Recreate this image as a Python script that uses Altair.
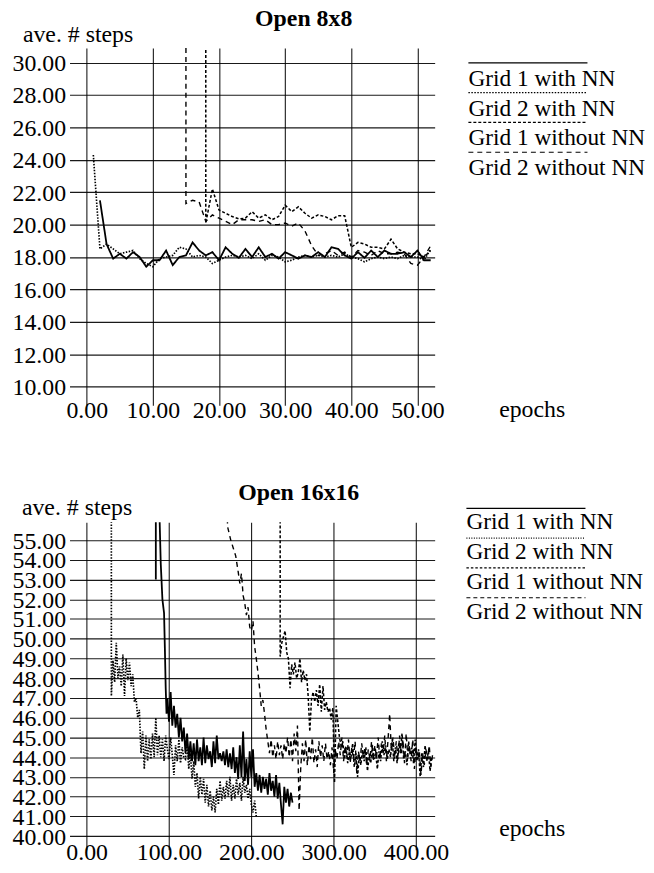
import altair as alt
import pandas as pd

FONT = "Liberation Serif"
SERIES = ["Grid 1 with NN", "Grid 2 with NN", "Grid 1 without NN", "Grid 2 without NN"]

# ---------------- Open 8x8 ----------------
o8_x_ticks = [0, 10, 20, 30, 40, 50]
o8_y_ticks = [10, 12, 14, 16, 18, 20, 22, 24, 26, 28, 30]

o8_g1nn_x = list(range(2, 53))
o8_g1nn_y = [21.5, 18.8, 17.9, 18.2, 17.9, 18.3, 18.0, 17.4, 17.8, 17.8,
             18.4, 17.5, 18.0, 18.1, 18.9, 18.4, 18.1, 18.3, 17.8, 18.6,
             18.2, 17.95, 18.5, 18.0, 18.6, 18.0, 18.2, 17.9, 18.3, 18.1,
             17.9, 18.1, 18.0, 18.3, 18.0, 18.6, 18.5, 18.1, 17.9, 18.3,
             17.95, 18.4, 18.0, 18.4, 18.2, 18.2, 18.3, 18.0, 18.4, 17.8, 17.8]

o8_g2nn_x = list(range(1, 53))
o8_g2nn_y = [24.3, 18.5, 18.8, 18.5, 18.2, 18.3, 18.4, 17.9, 17.6, 17.4,
             17.9, 18.0, 18.1, 18.6, 18.5, 18.0, 18.1, 18.0, 17.6, 17.8,
             18.0, 18.1, 18.0, 18.1, 17.9, 18.2, 17.8, 18.1, 18.0, 17.7,
             17.8, 18.0, 18.1, 18.0, 18.1, 18.0, 18.1, 18.0, 18.2, 18.0,
             17.9, 17.7, 17.9, 18.0, 17.9, 18.0, 17.9, 18.1, 18.0, 18.0, 17.8, 18.5]

o8_g1wo_x = [18] + list(range(18, 53))
o8_g1wo_y = [32, 20.1,
             22.2, 20.9, 20.7, 20.5, 20.35, 20.4, 20.8, 20.4, 20.6, 20.3,
             20.5, 21.2, 20.8, 21.1, 20.7, 20.4, 20.6, 20.5, 20.3, 20.55,
             20.55, 18.6, 18.9, 18.8, 18.6, 18.6, 18.5, 19.1, 18.5, 18.3,
             18.2, 18.2, 18.0, 18.4]

o8_g2wo_x = [15] + list(range(15, 53))
o8_g2wo_y = [32, 21.3,
             21.5, 21.4, 20.2, 20.6, 20.4, 20.2, 20.0, 20.3, 20.3, 20.3,
             20.2, 20.3, 20.0, 20.0, 20.1, 19.9, 20.1, 19.6, 18.7, 18.1,
             18.2, 18.4, 18.1, 18.3, 18.0, 18.4, 18.3, 18.1, 18.4, 18.2,
             18.2, 18.3, 18.2, 17.6, 17.5, 18.0, 18.7]

# ---------------- Open 16x16 ----------------
o16_x_ticks = [0, 100, 200, 300, 400]
o16_y_ticks = list(range(40, 56))

o16_g1nn_x = [84, 84, 88, 90, 92, 94, 95, 96, 97] + list(range(98, 251, 2))
o16_g1nn_y = [53.0, 57, 57, 53.8, 52.0, 51.3, 49.5, 47.5, 46.2,
              47.0, 45.8, 47.3, 45.6, 46.6, 45.5, 46.2, 45.0, 46.0, 44.8,
              45.5, 44.2, 45.2, 43.9, 44.8, 43.8, 44.7, 43.6, 44.9, 43.8,
              44.5, 43.6, 45.0, 43.7, 44.6, 43.9, 44.3, 43.5, 44.8, 43.7,
              45.1, 43.9, 44.2, 43.8, 44.3, 43.6, 44.4, 43.5, 44.2, 43.4,
              44.5, 43.2, 44.0, 42.9, 44.6, 43.0, 45.3, 42.8, 43.9, 42.6,
              44.3, 43.0, 44.4, 42.5, 43.2, 42.3, 43.1, 42.2, 43.0, 42.4,
              42.9, 42.1, 43.2, 42.3, 42.8, 42.0, 43.1, 41.9, 42.7, 41.6,
              40.6, 42.5, 41.7, 42.4, 41.5, 42.2, 41.7]

o16_g2nn_x = [30, 30] + list(range(32, 207, 2))
o16_g2nn_y = [57, 47.1,
              48.9, 47.8, 49.8, 48.0, 48.6, 47.6, 49.2, 47.1, 49.0, 47.9,
              48.8, 47.6, 48.2, 46.8, 47.0, 46.0, 46.4, 44.2, 45.3, 43.4,
              45.1, 43.8, 44.9, 43.9, 45.2, 44.0, 46.0, 44.1, 45.1, 44.0,
              44.9, 43.8, 45.1, 44.4, 43.9, 45.0, 44.1, 43.1, 44.6, 43.8,
              44.9, 43.7, 44.5, 44.0, 43.9, 44.8, 43.4, 44.2, 42.9, 43.8,
              42.5, 43.2, 41.9, 43.0, 42.1, 42.9, 41.7, 42.6, 41.5, 42.3,
              41.3, 42.0, 41.2, 42.4, 41.6, 42.8, 41.8, 42.5, 41.9, 42.8,
              42.0, 43.0, 41.8, 42.6, 41.9, 42.9, 42.1, 42.7, 41.8, 43.0,
              42.2, 42.6, 41.9, 42.4, 41.6, 41.2, 41.8, 41.0]

o16_g1wo_x = [235, 235] + list(range(237, 420, 2))
o16_g1wo_y = [57, 49.1,
              49.8, 50.1, 50.4, 49.3, 49.0, 47.5, 48.7, 48.2, 48.8, 48.0,
              48.3, 49.0, 47.8, 48.4, 47.9, 48.2, 47.1, 45.3, 46.9, 47.3,
              46.8, 47.4, 46.6, 47.7, 46.3, 47.6, 46.4, 46.8, 46.3, 46.5,
              45.9, 46.5, 42.7, 46.6, 45.8, 45.0, 44.6, 44.8,
              43.9, 44.5, 43.7, 44.3, 44.0, 44.7, 43.5, 44.2, 43.0, 44.1,
              43.6, 44.4, 43.8, 44.5, 43.3, 44.0, 43.7, 44.6, 43.9, 44.2,
              43.4, 44.3, 43.8, 44.8, 44.1, 44.6, 43.9, 44.4, 44.0, 44.9,
              43.8, 44.5, 43.7, 44.7, 44.2, 45.2, 43.9, 44.3, 43.6, 44.8,
              44.1, 44.5, 43.7, 44.9, 43.8, 44.4, 43.0, 44.2, 43.5, 44.6,
              43.8, 44.3, 43.3, 44.0]

o16_g2wo_x = [171, 171, 175, 178, 181, 184, 186, 188, 190, 192, 194, 196, 198] + list(range(200, 421, 2))
o16_g2wo_y = [57, 55.7, 55.0, 54.6, 54.2, 53.4, 52.8, 53.3, 52.2, 51.8, 51.2, 51.6, 50.6,
              50.4, 50.9, 49.6, 49.0, 48.3, 47.5, 46.6, 46.9, 46.2, 45.4, 44.8,
              44.2, 44.9, 44.0, 44.6, 43.9, 44.8, 44.1, 44.6, 43.9, 44.7,
              44.2, 45.0, 44.0, 44.9, 43.8, 45.2, 44.3, 45.6, 41.3, 43.5,
              44.7, 43.8, 44.9, 43.6, 44.6, 43.9, 45.0, 43.7, 44.4, 43.5,
              44.8, 44.0, 44.6, 43.8, 44.7, 43.9, 44.3, 43.6, 44.5, 43.2,
              44.4, 43.9, 44.8, 44.1, 45.0, 43.8, 44.6, 44.0, 44.9, 43.7,
              44.5, 43.9, 44.8, 43.2, 44.3, 43.8, 44.7, 44.0, 44.5, 43.6,
              44.4, 43.9, 44.8, 43.8, 44.6, 44.0, 45.0, 43.9, 44.7, 44.2,
              45.1, 43.8, 44.9, 46.2, 44.3, 45.0, 44.0, 44.8, 43.9, 45.1,
              44.2, 44.9, 43.7, 45.2, 44.0, 44.6, 43.8, 44.9, 43.4, 44.5,
              43.9, 44.3, 43.1, 44.2, 43.6, 44.4, 43.9, 44.6, 43.5, 44.1]


def series_df(xs, ys, name):
    assert len(xs) == len(ys), (name, len(xs), len(ys))
    return pd.DataFrame({"epoch": xs, "steps": ys, "series": name,
                         "order": list(range(len(xs)))})


def panel(df, title, xdom, xticks, ydom, yticks, dashes, widths,
          w, h, title_x, title_y, ylab_x, ylab_y, ylab_pad, xlab_pad,
          ep_x, ep_y, leg_x1, leg_x2, leg_y0, txt_y0):
    dash_scale = alt.Scale(domain=SERIES, range=dashes)
    width_scale = alt.Scale(domain=SERIES, range=widths)
    lines = alt.Chart(df).mark_line(clip=True, color="black").encode(
        x=alt.X("epoch:Q",
                scale=alt.Scale(domain=xdom, nice=False, zero=False),
                axis=alt.Axis(values=xticks, format=".2f", grid=True,
                              gridColor="black", gridWidth=1.1, gridOpacity=0.9,
                              domain=False, ticks=False, tickSize=0,
                              labelFont=FONT, labelFontSize=24, labelColor="black",
                              labelPadding=xlab_pad, labelBaseline="middle",
                              labelOverlap=False, labelFlush=False, title=None)),
        y=alt.Y("steps:Q",
                scale=alt.Scale(domain=ydom, nice=False, zero=False),
                axis=alt.Axis(values=yticks, format=".2f", grid=True,
                              gridColor="black", gridWidth=1.1, gridOpacity=0.9,
                              domain=False, ticks=False, tickSize=0,
                              labelFont=FONT, labelFontSize=24, labelColor="black",
                              labelPadding=ylab_pad, labelOffset=1,
                              labelOverlap=False, labelFlush=False, title=None)),
        order="order:Q",
        strokeDash=alt.StrokeDash("series:N", scale=dash_scale, legend=None),
        strokeWidth=alt.StrokeWidth("series:N", scale=width_scale, legend=None),
    )
    layers = [lines]
    for i, name in enumerate(SERIES):
        layers.append(
            alt.Chart(alt.Data(values=[{"s": name}])).mark_rule(
                color="black", strokeDash=dashes[i], strokeWidth=1.2
            ).encode(x=alt.value(leg_x1), x2=alt.value(leg_x2), y=alt.value(leg_y0 + 30 * i))
        )
        layers.append(
            alt.Chart(alt.Data(values=[{"s": name}])).mark_text(
                align="left", baseline="alphabetic", font=FONT, fontSize=23.5, color="black"
            ).encode(text="s:N", x=alt.value(leg_x1), y=alt.value(txt_y0 + 30 * i))
        )
    texts = [
        (title, title_x, title_y, "center", "bold"),
        ("ave. # steps", ylab_x, ylab_y, "left", "normal"),
        ("epochs", ep_x, ep_y, "left", "normal"),
    ]
    for t, tx, ty, al, fw in texts:
        layers.append(
            alt.Chart(alt.Data(values=[{"t": t}])).mark_text(
                align=al, baseline="alphabetic", font=FONT, fontSize=24,
                fontWeight=fw, color="black"
            ).encode(text="t:N", x=alt.value(tx), y=alt.value(ty))
        )
    return alt.layer(*layers).properties(width=w, height=h)


df8 = pd.concat([
    series_df(o8_g1nn_x, o8_g1nn_y, SERIES[0]),
    series_df(o8_g2nn_x, o8_g2nn_y, SERIES[1]),
    series_df(o8_g1wo_x, o8_g1wo_y, SERIES[2]),
    series_df(o8_g2wo_x, o8_g2wo_y, SERIES[3]),
], ignore_index=True)

df16 = pd.concat([
    series_df(o16_g1nn_x, o16_g1nn_y, SERIES[0]),
    series_df(o16_g2nn_x, o16_g2nn_y, SERIES[1]),
    series_df(o16_g1wo_x, o16_g1wo_y, SERIES[2]),
    series_df(o16_g2wo_x, o16_g2wo_y, SERIES[3]),
], ignore_index=True)

top = panel(df8, "Open 8x8", [-2.6, 52.6], o8_x_ticks, [8.85, 30.9], o8_y_ticks,
            [[1, 0], [1.5, 1.5], [3, 2], [5, 4]], [1.8, 1.4, 1.4, 1.5],
            368, 360, 236, -22, -47, -6, 4, 5,
            433, 372, 402, 522, 15, 38)

bottom = panel(df16, "Open 16x16", [-20.8, 422.6], o16_x_ticks, [39.31, 55.9], o16_y_ticks,
               [[1, 0], [1, 1.5], [2.5, 2], [4, 3]], [1.8, 1.5, 1.6, 2.0],
               368, 330, 231, -22, -48, -7, 4, 3,
               433, 316, 400, 520, -14, 7)

chart = alt.vconcat(top, bottom, spacing=60).properties(
    padding={"left": 4, "top": -4, "right": 0, "bottom": -3}
).configure_view(stroke=None)

chart.save("out.html", embed_options={"renderer": "svg", "actions": False})
